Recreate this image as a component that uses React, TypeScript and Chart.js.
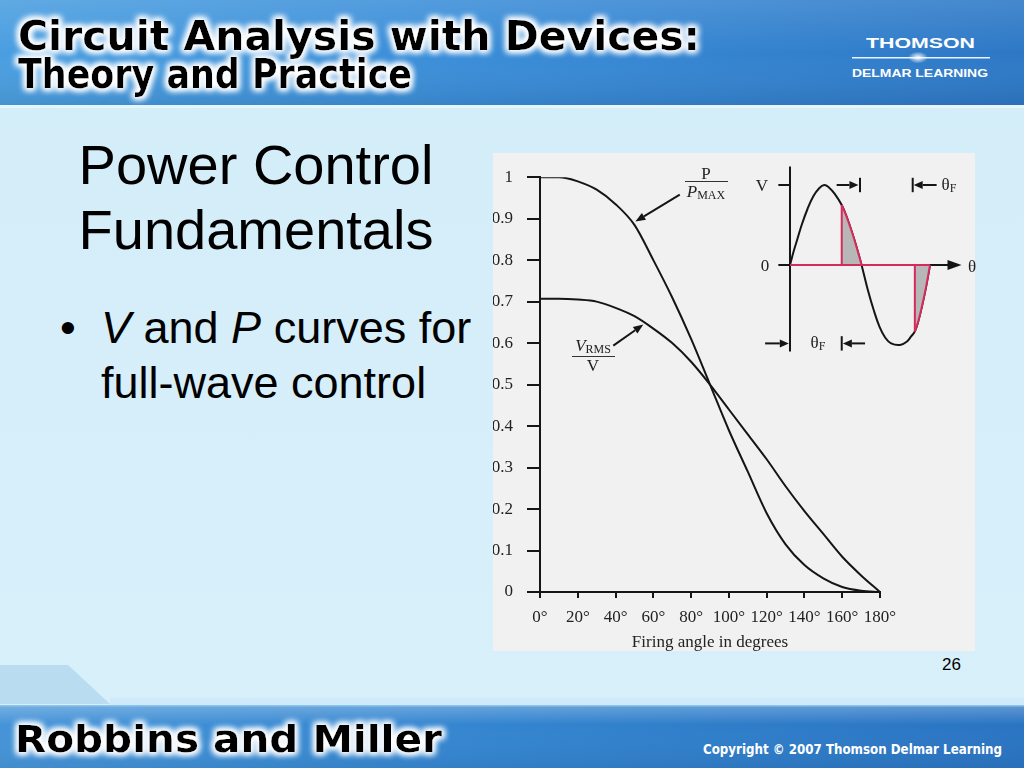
import React, { useEffect, useRef } from "react";
import { Chart, registerables } from "chart.js";

Chart.register(...registerables);

// ---------- Main chart data ----------
const FIRING_ANGLES = [0, 10, 20, 30, 40, 50, 60, 70, 80, 90, 100, 110, 120, 130, 140, 150, 160, 170, 180];
const P_RATIO = [1.0, 1.0, 0.99, 0.97, 0.935, 0.885, 0.8, 0.71, 0.61, 0.5, 0.39, 0.29, 0.19, 0.115, 0.065, 0.033, 0.012, 0.003, 0];
const V_RATIO = [0.707, 0.707, 0.705, 0.7, 0.685, 0.665, 0.635, 0.6, 0.555, 0.5, 0.44, 0.38, 0.32, 0.255, 0.195, 0.14, 0.085, 0.04, 0];
const X_TICKS = [0, 20, 40, 60, 80, 100, 120, 140, 160, 180];
const Y_TICKS = [0, 0.1, 0.2, 0.3, 0.4, 0.5, 0.6, 0.7, 0.8, 0.9, 1];

// label arrows (data units: degrees, ratio)
const ARROW_P_FROM = [74, 0.958];
const ARROW_P_TO = [50.5, 0.893];
const ARROW_V_FROM = [38.8, 0.594];
const ARROW_V_TO = [54.7, 0.645];

// ---------- Inset waveform data ----------
const WAVE_ANGLES = [0, 10, 20, 30, 45, 60, 75, 88, 100, 115, 133, 145, 160, 172, 184, 200, 215, 230, 245, 260, 283, 300, 312, 321, 330, 340, 350, 360];
const WAVE_VALUES = [0, 0.18, 0.34, 0.5, 0.7, 0.86, 0.96, 1, 0.97, 0.89, 0.75, 0.61, 0.4, 0.21, 0, -0.31, -0.56, -0.77, -0.91, -0.98, -1, -0.96, -0.89, -0.83, -0.7, -0.5, -0.27, 0];
const COND1_ANGLES = [133, 145, 160, 172, 184];
const COND1_VALUES = [0.75, 0.61, 0.4, 0.21, 0];
const COND2_ANGLES = [321, 330, 340, 350, 360];
const COND2_VALUES = [-0.83, -0.7, -0.5, -0.27, 0];

const SERIF = "'Liberation Serif', 'Times New Roman', serif";
const SANS = "'Liberation Sans', Arial, sans-serif";
const INK = "#151515";
const RED = "#d42a5c";

function drawArrow(ctx: CanvasRenderingContext2D, x1: number, y1: number, x2: number, y2: number, head = 10, half = 4, width = 2) {
  const ang = Math.atan2(y2 - y1, x2 - x1);
  const bx = x2 - head * Math.cos(ang);
  const by = y2 - head * Math.sin(ang);
  ctx.save();
  ctx.strokeStyle = INK;
  ctx.fillStyle = INK;
  ctx.lineWidth = width;
  ctx.beginPath();
  ctx.moveTo(x1, y1);
  ctx.lineTo(bx, by);
  ctx.stroke();
  ctx.beginPath();
  ctx.moveTo(x2, y2);
  ctx.lineTo(bx + half * Math.sin(ang), by - half * Math.cos(ang));
  ctx.lineTo(bx - half * Math.sin(ang), by + half * Math.cos(ang));
  ctx.closePath();
  ctx.fill();
  ctx.restore();
}

function MainChart() {
  const ref = useRef<HTMLCanvasElement>(null);
  useEffect(() => {
    const arrows = {
      id: "curveArrows",
      afterDatasetsDraw(chart: any) {
        const { ctx, scales } = chart;
        const x = scales.x, y = scales.y;
        drawArrow(ctx, x.getPixelForValue(ARROW_P_FROM[0]), y.getPixelForValue(ARROW_P_FROM[1]), x.getPixelForValue(ARROW_P_TO[0]), y.getPixelForValue(ARROW_P_TO[1]));
        drawArrow(ctx, x.getPixelForValue(ARROW_V_FROM[0]), y.getPixelForValue(ARROW_V_FROM[1]), x.getPixelForValue(ARROW_V_TO[0]), y.getPixelForValue(ARROW_V_TO[1]));
      },
    };
    const chart = new Chart(ref.current!, {
      type: "line",
      data: {
        datasets: [
          {
            label: "P/PMAX",
            data: FIRING_ANGLES.map((a, i) => ({ x: a, y: P_RATIO[i] })),
            borderColor: INK,
            borderWidth: 2,
            pointRadius: 0,
            cubicInterpolationMode: "monotone",
            fill: false,
          },
          {
            label: "VRMS/V",
            data: FIRING_ANGLES.map((a, i) => ({ x: a, y: V_RATIO[i] })),
            borderColor: INK,
            borderWidth: 2,
            pointRadius: 0,
            cubicInterpolationMode: "monotone",
            fill: false,
          },
        ],
      },
      options: {
        animation: false,
        responsive: false,
        maintainAspectRatio: false,
        layout: { padding: { top: 12, right: 95, left: 0, bottom: 0 } },
        plugins: { legend: { display: false }, tooltip: { enabled: false } },
        scales: {
          x: {
            type: "linear",
            min: 0,
            max: 180,
            afterBuildTicks: (s: any) => {
              s.ticks = X_TICKS.map((v) => ({ value: v }));
            },
            afterFit: (s: any) => {
              s.height = 61;
            },
            ticks: {
              callback: (v: any) => v + "°",
              font: { family: SERIF, size: 17 },
              color: "#222",
              padding: 9,
              maxRotation: 0,
              autoSkip: false,
            },
            grid: { drawOnChartArea: false, drawTicks: true, tickLength: 6, color: INK, lineWidth: 2 },
            border: { display: true, color: INK, width: 2 },
            title: { display: true, text: "Firing angle in degrees", font: { family: SERIF, size: 17 }, color: "#222", padding: 0 },
          },
          y: {
            type: "linear",
            min: 0,
            max: 1,
            afterBuildTicks: (s: any) => {
              s.ticks = Y_TICKS.map((v) => ({ value: v }));
            },
            afterFit: (s: any) => {
              s.width = 47;
            },
            ticks: {
              callback: (v: any) => (v === 0 ? "0" : v === 1 ? "1" : Number(v).toFixed(1)),
              font: { family: SERIF, size: 17 },
              color: "#222",
              padding: 14,
              autoSkip: false,
            },
            grid: { drawOnChartArea: false, drawTicks: true, tickLength: 13, color: INK, lineWidth: 2 },
            border: { display: true, color: INK, width: 2 },
          },
        },
      } as any,
      plugins: [arrows],
    });
    return () => chart.destroy();
  }, []);
  return (
    <canvas
      ref={ref}
      width={482}
      height={500}
      style={{ position: "absolute", left: 493, top: 153, width: 482, height: 500 }}
    />
  );
}

function InsetChart() {
  const ref = useRef<HTMLCanvasElement>(null);
  useEffect(() => {
    const decor = {
      id: "insetDecor",
      beforeDatasetsDraw(chart: any) {
        const { ctx, scales } = chart;
        const x = scales.x, y = scales.y;
        ctx.save();
        ctx.strokeStyle = INK;
        ctx.lineWidth = 2;
        ctx.beginPath();
        ctx.moveTo(x.getPixelForValue(0), y.getPixelForValue(1.23));
        ctx.lineTo(x.getPixelForValue(0), y.getPixelForValue(-1.08));
        ctx.moveTo(x.getPixelForValue(-30), y.getPixelForValue(0));
        ctx.lineTo(x.getPixelForValue(425), y.getPixelForValue(0));
        ctx.moveTo(x.getPixelForValue(-30), y.getPixelForValue(1));
        ctx.lineTo(x.getPixelForValue(0), y.getPixelForValue(1));
        ctx.stroke();
        ctx.restore();
        drawArrow(ctx, x.getPixelForValue(400), y.getPixelForValue(0), x.getPixelForValue(441), y.getPixelForValue(0), 14, 5);
      },
      afterDatasetsDraw(chart: any) {
        const { ctx, scales } = chart;
        const x = scales.x, y = scales.y;
        const bar = (deg: number, v1: number, v2: number) => {
          ctx.save();
          ctx.strokeStyle = INK;
          ctx.lineWidth = 2;
          ctx.beginPath();
          ctx.moveTo(x.getPixelForValue(deg), y.getPixelForValue(v1));
          ctx.lineTo(x.getPixelForValue(deg), y.getPixelForValue(v2));
          ctx.stroke();
          ctx.restore();
        };
        const arr = (d1: number, d2: number, v: number) =>
          drawArrow(ctx, x.getPixelForValue(d1), y.getPixelForValue(v), x.getPixelForValue(d2), y.getPixelForValue(v), 9, 4);
        arr(120, 176, 1);
        bar(180, 1.09, 0.91);
        bar(315.5, 1.09, 0.91);
        arr(377, 318, 1);
        arr(-64, -3, -0.98);
        bar(133, -0.89, -1.07);
        arr(193, 136, -0.98);
      },
    };
    const pts = (a: number[], v: number[]) => a.map((d, i) => ({ x: d, y: v[i] }));
    const chart = new Chart(ref.current!, {
      type: "line",
      data: {
        datasets: [
          {
            label: "wave",
            data: pts(WAVE_ANGLES, WAVE_VALUES),
            borderColor: INK,
            borderWidth: 2,
            pointRadius: 0,
            tension: 0.4,
            fill: false,
            order: 5,
            clip: false,
          },
          {
            label: "conduction 1",
            data: pts(COND1_ANGLES, COND1_VALUES),
            borderColor: RED,
            backgroundColor: "#b7b7b7",
            borderWidth: 2,
            pointRadius: 0,
            tension: 0.4,
            fill: "origin",
            order: 4,
            clip: false,
          },
          {
            label: "conduction 2",
            data: pts(COND2_ANGLES, COND2_VALUES),
            borderColor: RED,
            backgroundColor: "#b7b7b7",
            borderWidth: 2,
            pointRadius: 0,
            tension: 0.4,
            fill: "origin",
            order: 4,
            clip: false,
          },
          {
            label: "load axis",
            data: [
              { x: WAVE_ANGLES[0], y: 0 },
              { x: WAVE_ANGLES[WAVE_ANGLES.length - 1], y: 0 },
            ],
            borderColor: RED,
            borderWidth: 2,
            pointRadius: 0,
            fill: false,
            order: 3,
            clip: false,
          },
          {
            label: "firing 1",
            data: [
              { x: COND1_ANGLES[0], y: 0 },
              { x: COND1_ANGLES[0], y: COND1_VALUES[0] },
            ],
            borderColor: RED,
            borderWidth: 2,
            pointRadius: 0,
            fill: false,
            order: 2,
            clip: false,
          },
          {
            label: "firing 2",
            data: [
              { x: COND2_ANGLES[0], y: 0 },
              { x: COND2_ANGLES[0], y: COND2_VALUES[0] },
            ],
            borderColor: RED,
            borderWidth: 2,
            pointRadius: 0,
            fill: false,
            order: 2,
            clip: false,
          },
        ],
      },
      options: {
        animation: false,
        responsive: false,
        maintainAspectRatio: false,
        layout: { padding: { left: 28.33, right: 16.1, top: 10, bottom: 7 } },
        plugins: { legend: { display: false }, tooltip: { enabled: false } },
        scales: {
          x: { type: "linear", min: -30, max: 460, display: false },
          y: { type: "linear", min: -1.1, max: 1.25, display: false },
        },
      } as any,
      plugins: [decor],
    });
    return () => chart.destroy();
  }, []);
  return (
    <canvas
      ref={ref}
      width={235}
      height={205}
      style={{ position: "absolute", left: 750, top: 155, width: 235, height: 205 }}
    />
  );
}

function T({ x, y, size = 17, italic = false, children }: any) {
  return (
    <div
      style={{
        position: "absolute",
        left: x,
        top: y,
        transform: "translate(-50%, -50%)",
        fontFamily: SERIF,
        fontSize: size,
        lineHeight: `${size}px`,
        fontStyle: italic ? "italic" : "normal",
        color: "#222",
        whiteSpace: "nowrap",
      }}
    >
      {children}
    </div>
  );
}

function HLine({ x1, x2, y }: any) {
  return <div style={{ position: "absolute", left: x1, top: y, width: x2 - x1, height: 1, background: "#333" }} />;
}

const Sub = ({ children }: any) => (
  <span style={{ fontSize: 12, fontStyle: "normal", verticalAlign: "-2px" }}>{children}</span>
);

const GLOW_FILTER = (id: string) => (
  <filter id={id} x="-5%" y="-40%" width="110%" height="180%">
    <feMorphology in="SourceAlpha" operator="dilate" radius="1.5" result="d" />
    <feGaussianBlur in="d" stdDeviation="3" result="b" />
    <feFlood floodColor="#ffffff" />
    <feComposite in2="b" operator="in" result="g" />
    <feMerge>
      <feMergeNode in="g" />
      <feMergeNode in="g" />
      <feMergeNode in="SourceGraphic" />
    </feMerge>
  </filter>
);

const HEAD_FONT = "'DejaVu Sans Condensed', 'Liberation Sans Narrow', sans-serif";

function Header() {
  return (
    <svg width={1024} height={110} style={{ position: "absolute", left: 0, top: 0 }}>
      <defs>
        <linearGradient id="hdrH" x1="0" y1="0" x2="1" y2="0">
          <stop offset="0" stopColor="#4a9ee0" />
          <stop offset="0.45" stopColor="#3a8dd8" />
          <stop offset="1" stopColor="#2d78c6" />
        </linearGradient>
        <linearGradient id="hdrV" x1="0" y1="0" x2="0" y2="1">
          <stop offset="0" stopColor="#ffffff" stopOpacity="0.12" />
          <stop offset="0.5" stopColor="#ffffff" stopOpacity="0" />
          <stop offset="1" stopColor="#000000" stopOpacity="0.08" />
        </linearGradient>
        <radialGradient id="logoGlow" cx="0.5" cy="0.5" r="0.5">
          <stop offset="0" stopColor="#ffffff" stopOpacity="1" />
          <stop offset="1" stopColor="#ffffff" stopOpacity="0" />
        </radialGradient>
        {GLOW_FILTER("glow")}
      </defs>
      <rect x={0} y={0} width={1024} height={106} fill="url(#hdrH)" />
      <rect x={0} y={0} width={1024} height={106} fill="url(#hdrV)" />
      <rect x={0} y={105} width={1024} height={3} fill="#e6f5fc" />
      <text x={18} y={50} textLength={682} lengthAdjust="spacingAndGlyphs" fontFamily={HEAD_FONT} fontWeight="bold" fontSize={40} fill="#000" filter="url(#glow)">
        Circuit Analysis with Devices:
      </text>
      <text x={18} y={88} textLength={394} lengthAdjust="spacingAndGlyphs" fontFamily={HEAD_FONT} fontWeight="bold" fontSize={40} fill="#000" filter="url(#glow)">
        Theory and Practice
      </text>
      <text x={866} y={48} textLength={109} lengthAdjust="spacingAndGlyphs" fontFamily={SANS} fontWeight="bold" fontSize={14} fill="#fff">
        THOMSON
      </text>
      <rect x={852} y={57} width={138} height={1.5} fill="#e8f4ff" />
      <ellipse cx={918} cy={57.5} rx={10} ry={6} fill="url(#logoGlow)" />
      <text x={852} y={77} textLength={136} lengthAdjust="spacingAndGlyphs" fontFamily={SANS} fontWeight="bold" fontSize={11.5} fill="#fff">
        DELMAR LEARNING
      </text>
    </svg>
  );
}

function Footer() {
  return (
    <svg width={1024} height={110} style={{ position: "absolute", left: 0, top: 658 }}>
      <defs>
        <linearGradient id="ftH" x1="0" y1="0" x2="1" y2="0">
          <stop offset="0" stopColor="#4594d8" />
          <stop offset="0.5" stopColor="#3384cf" />
          <stop offset="1" stopColor="#2a74c2" />
        </linearGradient>
        <linearGradient id="ftV" x1="0" y1="0" x2="0" y2="1">
          <stop offset="0" stopColor="#ffffff" stopOpacity="0.25" />
          <stop offset="0.3" stopColor="#ffffff" stopOpacity="0" />
          <stop offset="1" stopColor="#000000" stopOpacity="0.05" />
        </linearGradient>
        {GLOW_FILTER("glow2")}
      </defs>
      <polygon points="0,7 68,7 110,46 0,46" fill="#b9dcf0" />
      <rect x={110} y={40} width={914} height={8} fill="#cfeaf8" />
      <rect x={0} y={48} width={1024} height={62} fill="url(#ftH)" />
      <rect x={0} y={48} width={1024} height={62} fill="url(#ftV)" />
      <rect x={0} y={47} width={1024} height={1.5} fill="#8cc4ec" />
      <text x={15} y={94} textLength={427} lengthAdjust="spacingAndGlyphs" fontFamily={HEAD_FONT} fontWeight="bold" fontSize={38} fill="#000" filter="url(#glow2)">
        Robbins and Miller
      </text>
      <text
        x={703}
        y={96}
        textLength={299}
        lengthAdjust="spacingAndGlyphs"
        fontFamily="'Liberation Sans Narrow', 'DejaVu Sans Condensed', sans-serif"
        fontWeight="bold"
        fontSize={14}
        fill="#fff"
      >
        Copyright © 2007 Thomson Delmar Learning
      </text>
    </svg>
  );
}

export default function App() {
  return (
    <div
      style={{
        position: "fixed",
        left: 0,
        top: 0,
        width: 1024,
        height: 768,
        overflow: "hidden",
        background: "linear-gradient(180deg, #d3edf9 0%, #d8f0fa 100%)",
      }}
    >
      <Header />
      <div
        style={{
          position: "absolute",
          left: 30,
          top: 132,
          width: 452,
          textAlign: "center",
          fontFamily: SANS,
          fontSize: 56,
          lineHeight: "65px",
          color: "#000",
        }}
      >
        Power Control
        <br />
        Fundamentals
      </div>
      <div style={{ position: "absolute", left: 60, top: 300, fontFamily: SANS, fontSize: 45, lineHeight: "55px", color: "#000", whiteSpace: "nowrap" }}>
        <span style={{ display: "inline-block", width: 41 }}>•</span>
        <i>V</i> and <i>P</i> curves for
        <br />
        <span style={{ display: "inline-block", width: 41 }} />
        full-wave control
      </div>
      <div style={{ position: "absolute", left: 493, top: 153, width: 482, height: 498, background: "#f1f1f1" }} />
      <MainChart />
      <InsetChart />
      <T x={706} y={173}>P</T>
      <HLine x1={685} x2={728} y={181} />
      <T x={706} y={193}>
        <i>P</i>
        <Sub>MAX</Sub>
      </T>
      <T x={593} y={347}>
        <i>V</i>
        <Sub>RMS</Sub>
      </T>
      <HLine x1={572} x2={615} y={356} />
      <T x={593} y={365}>V</T>
      <T x={762} y={185}>V</T>
      <T x={765} y={265}>0</T>
      <T x={972} y={266}>θ</T>
      <T x={949} y={186}>
        θ<Sub>F</Sub>
      </T>
      <T x={818} y={344}>
        θ<Sub>F</Sub>
      </T>
      <div style={{ position: "absolute", right: 1024 - 961, top: 655, fontFamily: SANS, fontSize: 17, color: "#000" }}>26</div>
      <Footer />
    </div>
  );
}
